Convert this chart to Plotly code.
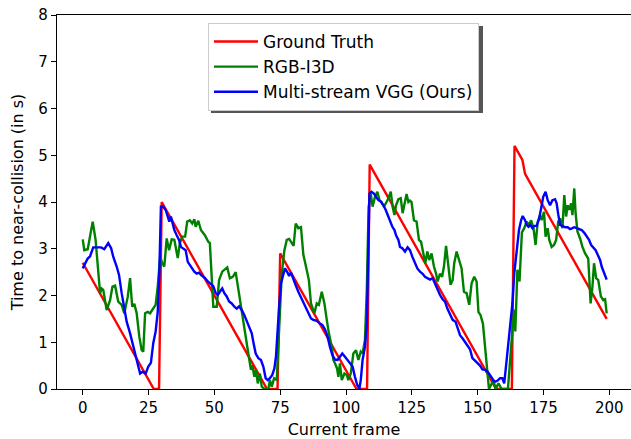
import plotly.graph_objects as go

# ---------------- data ----------------
gt_frames = [0, 27, 29, 30, 70, 74, 75, 104, 108, 109, 157, 163, 164, 167, 168, 199]
gt_values = [2.7, 0, 0, 4.0, 0, 0, 2.9, 0, 0, 4.8, 0, 0, 5.2, 4.9, 4.6, 1.5]

i3d_frames = [0, 0.6, 1.9, 3.8, 4.9, 5.9, 6.6, 7.2, 7.8, 9.1, 10.4, 11.3, 12.3, 13.5, 14.8, 15.8, 17.1, 18, 18.8, 19.6,
              20.5, 21.5, 22.4, 23, 23.7, 24.7, 25.6, 26.4, 27.7, 28.5, 29.4, 30.2, 31, 31.9, 32.8, 33.8, 34.8, 35.4, 36.1, 36.9,
              37.8, 38.9, 39.7, 40.7, 41.6, 42.4, 42.9, 43.9, 44.9, 46.4, 47.7, 48.3, 49.6, 50.9, 51.8, 53, 54, 54.9, 55.9, 57,
              58.1, 59.1, 60.4, 61.6, 62.9, 63.9, 64.4, 65.2, 65.8, 66.5, 67.3, 68, 69, 70.5, 71.1, 71.8, 72.7, 73.7, 74.5, 75.6,
              76.6, 77.5, 78.4, 79.4, 80.1, 80.9, 81.9, 82.9, 83.8, 84.4, 85, 85.9, 86.7, 88, 88.9, 89.7, 90.8, 91.8, 92.7, 93.5,
              94.6, 95.2, 95.8, 96.6, 97.1, 97.7, 98.4, 99.4, 100.3, 100.9, 101.8, 102.8, 103.8, 104.7, 105.6, 106.3, 107.2, 107.9, 108.6, 109.4,
              110.1, 111, 111.9, 112.7, 113.5, 114.4, 115.4, 116.1, 117, 117.7, 118.4, 119, 119.9, 120.8, 121.5, 122.2, 123, 123.7, 124.3, 124.9,
              125.8, 126.8, 127.7, 128.5, 129.4, 130.1, 130.9, 131.6, 132.5, 133.4, 134.2, 134.8, 135.7, 136.5, 137.2, 138, 138.9, 139.7, 140.5, 141.1,
              142, 143, 143.9, 144.8, 145.8, 146.8, 147.7, 148.7, 149.6, 150.3, 151.1, 152, 152.8, 153.8, 154.3, 156, 156.8, 157.9, 159.1, 161.5,
              163, 163.8, 164.3, 165.1, 165.9, 166.8, 167.7, 168.6, 169.5, 170.3, 171.2, 172, 172.8, 173.7, 174.3, 175.2, 175.8, 176.6, 177.2, 178.1,
              179, 179.8, 180.6, 181.3, 182.2, 182.9, 183.6, 184.2, 184.8, 185.5, 186, 186.7, 187.2, 187.9, 188.9, 189.8, 190.8, 192, 192.9, 193.6,
              194.2, 195, 195.8, 196.8, 197.7, 198.4, 199]
i3d_values = [3.2, 2.97, 2.99, 3.58, 3.19, 2.47, 2.05, 2.15, 2.12, 1.69, 1.9, 2.19, 2.21, 1.87, 1.8, 1.62, 1.97, 2.37, 1.76, 1.82,
              1.62, 1.12, 0.83, 0.8, 1.62, 1.65, 1.62, 1.69, 1.8, 2.19, 2.83, 2.69, 2.62, 3.22, 2.97, 3.2, 3.19, 3.01, 2.8, 3.12,
              3.26, 3.26, 3.58, 3.61, 3.54, 3.63, 3.47, 3.6, 3.4, 3.29, 3.15, 3.12, 1.76, 1.76, 2.33, 2.51, 2.55, 2.6, 2.37, 2.4,
              2.5, 2.12, 1.69, 1.26, 0.76, 0.41, 0.51, 0.26, 0.41, 0.12, 0.33, 0.05, 0, 0, 0.19, 0.05, 0.23, 0.19, 1.19, 2.47,
              2.97, 3.19, 3.21, 3.12, 3.06, 3.54, 3.44, 3.46, 2.87, 2.72, 2.58, 2.33, 1.83, 1.62, 1.83, 1.8, 2.08, 1.83, 1.48, 1.19,
              0.9, 0.62, 0.55, 0.44, 0.26, 0.55, 0.19, 0.33, 0.3, 0.19, 0.33, 0.76, 0.83, 0.62, 0.8, 0.76, 1.05, 2.12, 3.9, 4.18,
              3.9, 4.11, 4.22, 4.04, 4.0, 3.9, 4.0, 4.08, 4.22, 3.9, 3.72, 3.93, 4.06, 4.08, 3.76, 3.97, 4.17, 4.0, 4.03, 4.0,
              3.61, 3.58, 3.19, 3.15, 2.9, 2.69, 2.94, 2.76, 2.9, 2.62, 2.47, 2.3, 2.47, 2.4, 2.62, 3.06, 2.62, 2.23, 2.33, 2.69,
              2.94, 2.76, 2.58, 2.08, 2.05, 1.8, 2.26, 2.4, 2.3, 1.65, 1.58, 1.4, 0.9, 0.33, 0, 0.19, 0, 0.12, 0, 0,
              1.0, 1.7, 1.23, 2.55, 2.3, 3.35, 3.44, 3.58, 3.51, 3.61, 3.44, 3.08, 3.58, 3.72, 3.61, 3.79, 3.26, 3.44, 3.19, 3.04,
              3.08, 3.19, 3.58, 3.65, 3.44, 4.15, 3.69, 3.93, 3.83, 3.97, 3.72, 4.29, 3.76, 3.37, 3.22, 3.04, 2.9, 2.79, 1.83, 2.19,
              2.69, 2.37, 2.33, 1.98, 1.9, 1.92, 1.62]

vgg_frames = [0, 0.9, 1.9, 2.8, 4, 5.3, 7, 8.2, 9.7, 10.8, 11.6, 12.9, 13.8, 14.8, 15.8, 16.7, 18, 19.2, 20.5, 21.8,
              22.8, 23.9, 24.9, 25.9, 26.8, 27.7, 28.5, 29.1, 29.7, 30.6, 31.5, 32.3, 32.9, 33.5, 34.2, 34.8, 35.7, 36.6, 37.3, 38.2,
              39.1, 39.9, 40.8, 41.6, 42.4, 43.3, 44.2, 44.9, 46.5, 47.5, 48.4, 49.6, 50.5, 51.3, 52.1, 53, 53.8, 54.7, 55.6, 56.6,
              57.6, 58.5, 59.4, 60.4, 61.4, 62.3, 63.3, 64.2, 64.9, 65.7, 66.7, 67.7, 68.6, 69.5, 70.3, 71.1, 72, 72.8, 73.4, 73.9,
              74.6, 75.3, 76.1, 76.8, 77.6, 78.4, 79.1, 80, 80.9, 81.9, 82.9, 83.8, 84.7, 85.7, 86.7, 87.6, 88.9, 90.1, 91, 92,
              93, 93.9, 94.8, 95.8, 96.8, 97.7, 98.6, 99.6, 100.6, 101.5, 102.5, 103.4, 104.3, 105.1, 105.6, 106.3, 107.2, 107.9, 108.5, 108.9,
              109.7, 110.6, 111.4, 112.3, 113.2, 114.2, 115.1, 115.8, 116.7, 117.6, 118.4, 119, 119.9, 120.5, 121.4, 122.4, 123.4, 124.3, 125.2, 126.2,
              127.1, 128.1, 129, 130, 130.9, 131.9, 132.9, 133.8, 134.7, 135.7, 136.7, 137.6, 138.5, 139.5, 140.5, 141.6, 142.4, 143.3, 144.3, 145.2,
              146.2, 147.1, 148, 149, 150, 150.9, 151.8, 152.8, 153.8, 154.7, 155.6, 156.3, 156.8, 157.6, 158.5, 159.4, 160.1, 160.6, 161.4, 162.3,
              163.2, 163.9, 164.8, 165.7, 166.5, 167.1, 168, 168.6, 169.3, 170, 170.8, 171.5, 172.4, 173.3, 174.1, 174.9, 175.8, 176.6, 177.5, 178.4,
              179.4, 180, 180.6, 181.3, 182.2, 183.2, 184.2, 185.1, 186, 186.7, 187.6, 188.5, 189.5, 190.5, 191.4, 192.3, 193.1, 193.9, 194.8, 195.6,
              196.5, 197.1, 198.1, 199]
vgg_values = [2.58, 2.69, 2.79, 2.84, 3.03, 3.03, 3.03, 2.99, 3.12, 3.01, 2.83, 2.62, 2.44, 2.05, 1.76, 1.44, 1.19, 0.9, 0.58, 0.33,
              0.37, 0.33, 0.48, 0.56, 0.98, 1.23, 1.65, 2.47, 3.9, 3.9, 3.83, 3.69, 3.58, 3.69, 3.54, 3.4, 3.29, 3.19, 3.04, 3.01,
              2.97, 2.72, 2.65, 2.58, 2.51, 2.47, 2.49, 2.44, 2.37, 2.3, 2.25, 2.2, 2.05, 2.01, 2.08, 2.15, 2.05, 1.98, 1.87, 1.83,
              1.76, 1.72, 1.77, 1.69, 1.58, 1.44, 1.33, 1.19, 0.98, 0.76, 0.66, 0.62, 0.48, 0.23, 0.19, 0.23, 0.3, 0.44, 0.69, 1.19,
              1.76, 2.26, 2.47, 2.58, 2.51, 2.42, 2.49, 2.33, 2.22, 2.08, 1.96, 1.87, 1.76, 1.62, 1.51, 1.48, 1.46, 1.4, 1.37, 1.28,
              1.12, 0.9, 0.73, 0.63, 0.62, 0.69, 0.76, 0.69, 0.62, 0.55, 0.48, 0.26, 0.08, 0.01, 0.19, 0.62, 0.9, 1.4, 2.83, 4.18,
              4.22, 4.18, 4.11, 4.04, 4.01, 3.93, 3.83, 3.72, 3.58, 3.47, 3.4, 3.29, 3.19, 3.04, 3.01, 2.94, 3.03, 2.97, 2.83, 2.69,
              2.58, 2.51, 2.47, 2.4, 2.37, 2.34, 2.37, 2.26, 2.12, 2.01, 1.92, 1.87, 1.72, 1.58, 1.48, 1.44, 1.3, 1.15, 1.08, 1.01,
              0.94, 0.85, 0.66, 0.6, 0.55, 0.5, 0.42, 0.41, 0.37, 0.3, 0.23, 0.16, 0.16, 0.18, 0.23, 0.23, 0.12, 0.41, 0.76, 1.26,
              1.83, 2.47, 2.97, 3.4, 3.61, 3.7, 3.61, 3.51, 3.47, 3.51, 3.44, 3.49, 3.49, 3.63, 3.86, 4.11, 4.22, 4.04, 3.93, 4.04,
              4.06, 3.97, 3.74, 3.51, 3.49, 3.46, 3.46, 3.42, 3.44, 3.46, 3.44, 3.42, 3.4, 3.34, 3.26, 3.19, 3.08, 3.03, 2.97, 2.87,
              2.76, 2.62, 2.47, 2.34]

series_names = ["Ground Truth", "RGB-I3D", "Multi-stream VGG (Ours)"]
x_ticks = [0, 25, 50, 75, 100, 125, 150, 175, 200]
y_ticks = [0, 1, 2, 3, 4, 5, 6, 7, 8]

# ---------------- figure ----------------
W, H = 631, 439
L, R, T, B = 57, 0, 15, 50
FONT = "DejaVu Sans"
LW = 2.4

fig = go.Figure()
fig.add_trace(go.Scatter(x=gt_frames, y=gt_values, mode="lines", name=series_names[0],
                         line=dict(color="#ff0000", width=LW)))
fig.add_trace(go.Scatter(x=i3d_frames, y=i3d_values, mode="lines", name=series_names[1],
                         line=dict(color="#008000", width=LW)))
fig.add_trace(go.Scatter(x=vgg_frames, y=vgg_values, mode="lines", name=series_names[2],
                         line=dict(color="#0000ff", width=LW)))

pw, ph = W - L - R, H - T - B
def px_x(p):
    return (p - L) / pw
def px_y(p):
    return (H - B - p) / ph

# legend shadow (offset grey box behind the legend)
fig.add_shape(type="rect", xref="paper", yref="paper",
              x0=px_x(211), x1=px_x(483), y0=px_y(113), y1=px_y(26),
              fillcolor="#555555", line=dict(width=0), layer="above")

fig.update_layout(
    width=W, height=H,
    margin=dict(l=L, r=R, t=T, b=B, autoexpand=False),
    plot_bgcolor="white", paper_bgcolor="white",
    font=dict(family=FONT, size=15, color="black"),
    showlegend=True,
    legend=dict(x=px_x(208), y=px_y(23), xanchor="left", yanchor="top",
                bgcolor="white", bordercolor="#cccccc", borderwidth=1,
                itemwidth=44, tracegroupgap=0,
                font=dict(family=FONT, size=17, color="black")),
    xaxis=dict(range=[-9.76, 208.24], tickvals=x_ticks, ticks="outside", ticklen=5,
               tickwidth=1, tickcolor="black", showline=True, linecolor="black", linewidth=1.3,
               mirror=True, showgrid=False, zeroline=False, automargin=False,
               tickfont=dict(family=FONT, size=15),
               title=dict(text="Current frame", font=dict(family=FONT, size=16), standoff=13)),
    yaxis=dict(range=[0, 8], tickvals=y_ticks, ticks="outside", ticklen=5,
               tickwidth=1, tickcolor="black", showline=True, linecolor="black", linewidth=1.3,
               showgrid=False, zeroline=False, automargin=False,
               tickfont=dict(family=FONT, size=15),
               title=dict(text="Time to near-collision (in s)", font=dict(family=FONT, size=16), standoff=10)),
)

fig.write_html("out.html", config={"displayModeBar": False},
               post_script="document.body.style.margin='0';document.body.style.overflow='hidden';")
